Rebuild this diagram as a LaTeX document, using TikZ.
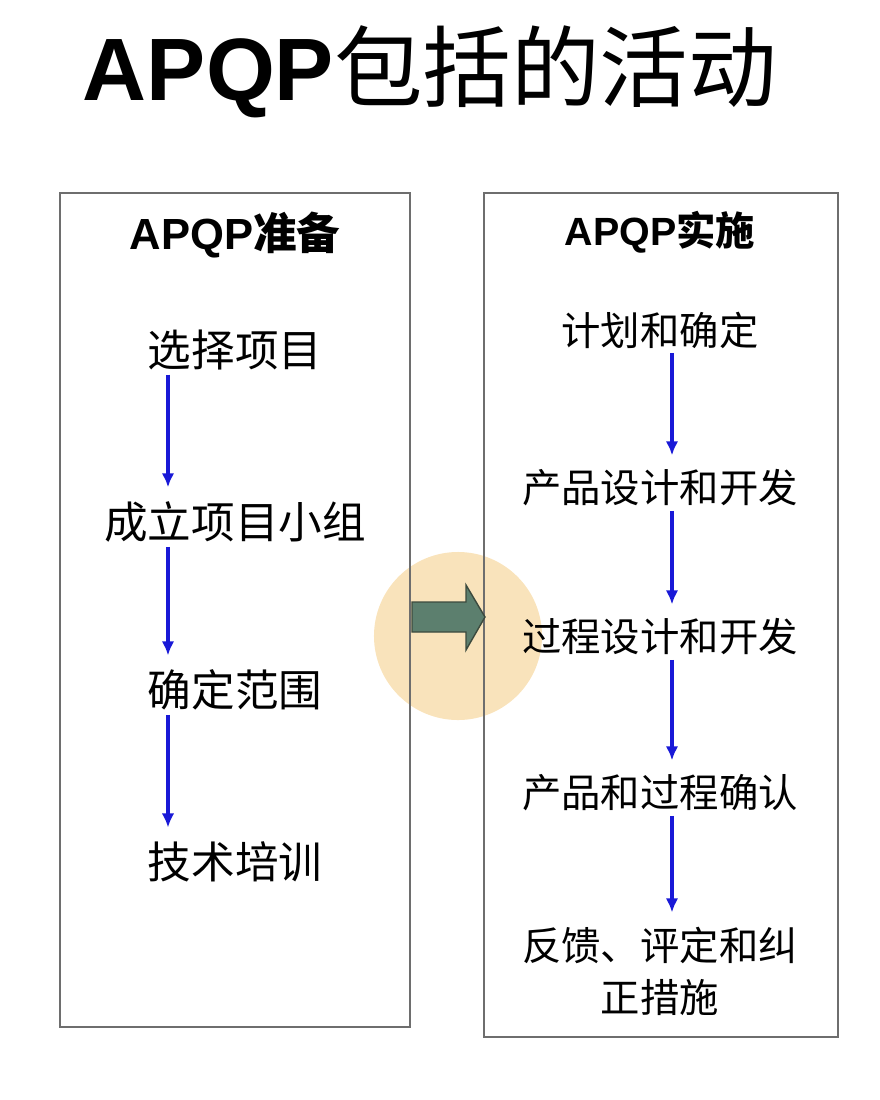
\documentclass[tikz,border=0pt]{standalone}
\usepackage{fontspec}
\setmainfont{Liberation Sans}
\newfontfamily\cjk{Noto Sans CJK SC}
\usetikzlibrary{arrows.meta, calc}
\definecolor{boxgray}{RGB}{110,110,110}
\definecolor{flowblue}{RGB}{25,25,215}
\definecolor{halopeach}{RGB}{249,227,187}
\definecolor{arrowgreen}{RGB}{92,127,110}
\definecolor{arrowedge}{RGB}{60,74,62}

\begin{document}
\begin{tikzpicture}[x=0.025cm, y=-0.025cm,
    colbox/.style={draw=boxgray, line width=1.4pt},
    head/.style={inner sep=0pt, font=\fontsize{#1}{#1}\selectfont\bfseries},
    item/.style={inner sep=0pt, align=center, font=\cjk\fontsize{#1}{37}\selectfont},
    flow/.style={draw=flowblue, line width=2.6pt, -{Latex[width=9pt,length=10pt]},
      shorten <=3pt, shorten >=10pt}]
    \useasboundingbox (0,0) rectangle (880,1100);
    % Title
    \node[font=\fontsize{63}{63}\selectfont] (title) at (430,72)
      {\textbf{APQP}{\cjk 包括的活动}};
    % Halo and transfer arrow between the columns
    \fill[halopeach] (458,636) circle[radius=2.1cm];
    \draw[colbox] (60,193) rectangle (410,1027);
    \draw[colbox] (484,193) rectangle (838,1037);
    \draw[fill=arrowgreen, draw=arrowedge, line width=1pt]
      (412,602) -- (466,602) -- (466,585) -- (485,617) -- (466,650)
      -- (466,632) -- (412,632) -- cycle;
    % Left column: preparation
    \node[head=31] (lhead) at (235,235) {APQP{\cjk 准备}};
    \node[item=31] (l1) at (235,350) {选择项目};
    \node[item=31] (l2) at (235,522) {成立项目小组};
    \node[item=31] (l3) at (235,690) {确定范围};
    \node[item=31] (l4) at (235,862) {技术培训};
    \coordinate (lx) at (168,0);
    \draw[flow] (l1.south -| lx) -- (l2.north -| lx);
    \draw[flow] (l2.south -| lx) -- (l3.north -| lx);
    \draw[flow] (l3.south -| lx) -- (l4.north -| lx);
    % Right column: implementation
    \node[head=28] (rhead) at (660,232) {APQP{\cjk 实施}};
    \node[item=28] (r1) at (660,330) {计划和确定};
    \node[item=28] (r2) at (660,488) {产品设计和开发};
    \node[item=28] (r3) at (660,637) {过程设计和开发};
    \node[item=28] (r4) at (660,793) {产品和过程确认};
    \node[item=28] (r5) at (660,971) {反馈、评定和纠\\正措施};
    \coordinate (rx) at (672,0);
    \draw[flow] (r1.south -| rx) -- (r2.north -| rx);
    \draw[flow] (r2.south -| rx) -- (r3.north -| rx);
    \draw[flow] (r3.south -| rx) -- (r4.north -| rx);
    \draw[flow] (r4.south -| rx) -- (r5.north -| rx);
\end{tikzpicture}
\end{document}
